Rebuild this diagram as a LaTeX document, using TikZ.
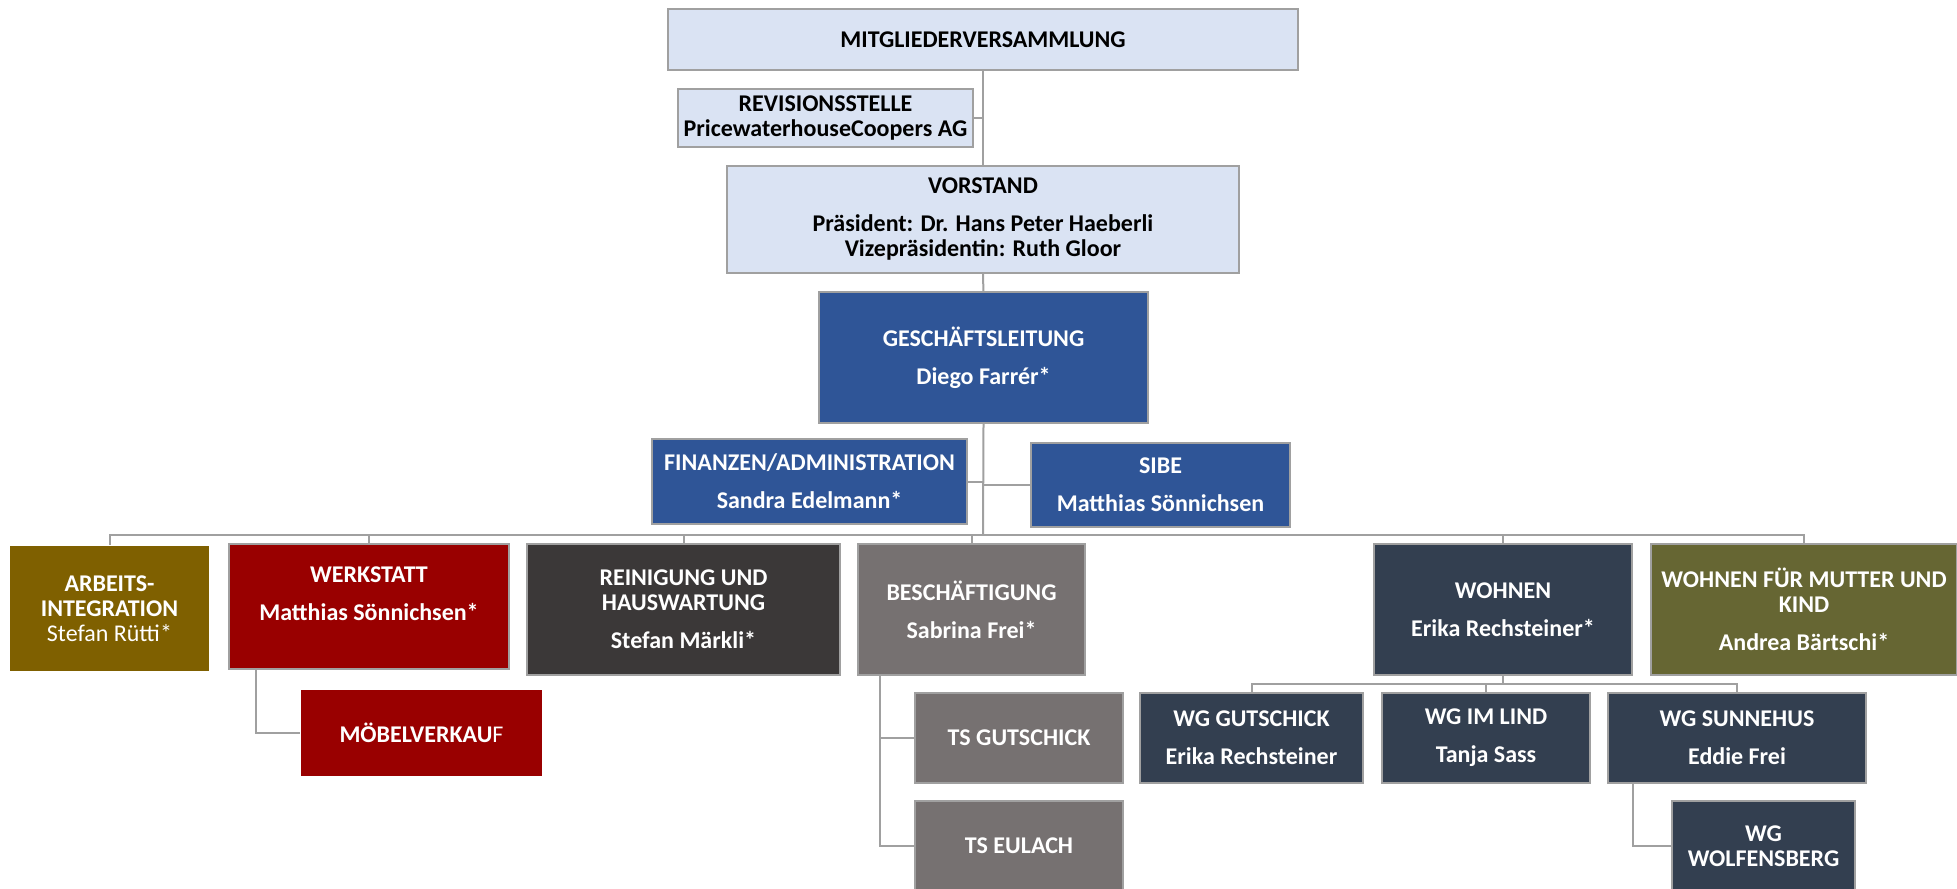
\documentclass[tikz,border=0pt]{standalone}
\usepackage{fontspec}
\setmainfont{Carlito}
\usepackage{tikz}
\usetikzlibrary{calc}
\definecolor{lightBlue}{HTML}{DAE3F3}
\definecolor{glBlue}{HTML}{2F5597}
\definecolor{arbGold}{HTML}{7F6000}
\definecolor{werkRed}{HTML}{990000}
\definecolor{reinDark}{HTML}{3B3838}
\definecolor{beschGray}{HTML}{767171}
\definecolor{wohnBlue}{HTML}{333F50}
\definecolor{wmkOlive}{HTML}{666633}
\definecolor{lineGray}{HTML}{A0A0A0}
\def\gap{6.5pt}

\begin{document}
\begin{tikzpicture}[x=0.5pt, y=-0.5pt,
	box/.style={draw=lineGray, line width=0.8pt, align=center, inner sep=2pt, font=\bfseries\fontsize{12}{12.5}\selectfont},
	light/.style={box, fill=lightBlue, text=black},
	dark/.style={box, fill=#1, text=white},
	plain/.style={box, draw=none, fill=#1, text=white},
	px/.style 2 args={minimum width=#1*0.5pt, minimum height=#2*0.5pt},
	link/.style={draw=lineGray, line width=1pt}]

	\useasboundingbox (0,0) rectangle (1957,888);

	% board and management
	\node[light, px={630}{61}] (mv) at (983,39.5) {MITGLIEDERVERSAMMLUNG};
	\node[light, px={295}{58}] (rev) at (825.5,118) {REVISIONSSTELLE\\PricewaterhouseCoopers AG};
	\node[light, px={512}{107}] (vorstand) at (983,219.5) {VORSTAND\\[\gap]Präsident: Dr. Hans Peter Haeberli\\Vizepräsidentin: Ruth Gloor};
	\node[dark=glBlue, px={329}{131}] (gl) at (983.5,357.5) {GESCHÄFTSLEITUNG\\[\gap]Diego Farrér*};
	\node[dark=glBlue, px={315}{85}] (fin) at (809.5,481.5) {FINANZEN/ADMINISTRATION\\[\gap]Sandra Edelmann*};
	\node[dark=glBlue, px={259}{84}] (sibe) at (1160.5,485) {SIBE\\[\gap]Matthias Sönnichsen};

	% departments
	\node[plain=arbGold, px={199}{125}] (arbeit) at (109.5,608.5) {ARBEITS-\\INTEGRATION\\{\mdseries Stefan Rütti*}};
	\node[dark=werkRed, px={280}{125}] (werk) at (369,606.5) {WERKSTATT\\[\gap]Matthias Sönnichsen*\\~};
	\node[dark=reinDark, px={313}{131}] (rein) at (683.5,609.5) {REINIGUNG UND\\HAUSWARTUNG\\[\gap]Stefan Märkli*};
	\node[dark=beschGray, px={227}{131}] (besch) at (971.5,609.5) {BESCHÄFTIGUNG\\[\gap]Sabrina Frei*};
	\node[dark=wohnBlue, px={258}{131}] (wohnen) at (1503,609.5) {WOHNEN\\[\gap]Erika Rechsteiner*};
	\node[dark=wmkOlive, px={306}{131}] (wmk) at (1804,609.5) {WOHNEN FÜR MUTTER UND\\KIND\\[\gap]Andrea Bärtschi*};

	% units
	\node[plain=werkRed, px={241}{86}] (moebel) at (421.5,733) {MÖBELVERKAU{\mdseries F}};
	\node[dark=beschGray, px={208}{90}] (tsg) at (1019,738) {TS GUTSCHICK};
	\node[dark=beschGray, px={208}{90}] (tse) at (1019,846) {TS EULACH};
	\node[dark=wohnBlue, px={223}{90}] (wgg) at (1251.5,738) {WG GUTSCHICK\\[\gap]Erika Rechsteiner};
	\node[dark=wohnBlue, px={208}{90}] (wgl) at (1486,738) {WG IM LIND\\[\gap]Tanja Sass};
	\node[dark=wohnBlue, px={258}{90}] (wgs) at (1737,738) {WG SUNNEHUS\\[\gap]Eddie Frei};
	\node[dark=wohnBlue, px={183}{90}] (wgw) at (1763.5,846) {WG\\WOLFENSBERG};

	\coordinate (bus) at (983,535);
	\coordinate (wbus) at (1503,684);

	\draw[link] (mv) -- (vorstand);
	\draw[link] (vorstand) -- (gl);
	\draw[link] (gl.south) -- (bus);
	\draw[link] (rev.east) -- (rev.east -| mv.south);
	\draw[link] (fin.east) -- (fin.east -| gl.south);
	\draw[link] (sibe.west) -- (sibe.west -| gl.south);
	\foreach \n in {arbeit, werk, rein, besch, wohnen, wmk}
		\draw[link] (bus) -| (\n.north);

	\draw[link] ([xshift=14pt]werk.south west) |- (moebel.west);
	\draw[link] ([xshift=11.5pt]besch.south west) |- (tsg.west);
	\draw[link] ([xshift=11.5pt]besch.south west) |- (tse.west);

	\draw[link] (wohnen.south) -- (wbus);
	\foreach \n in {wgg, wgl, wgs}
		\draw[link] (wbus) -| (\n.north);
	\draw[link] ([xshift=13pt]wgs.south west) |- (wgw.west);

\end{tikzpicture}
\end{document}
